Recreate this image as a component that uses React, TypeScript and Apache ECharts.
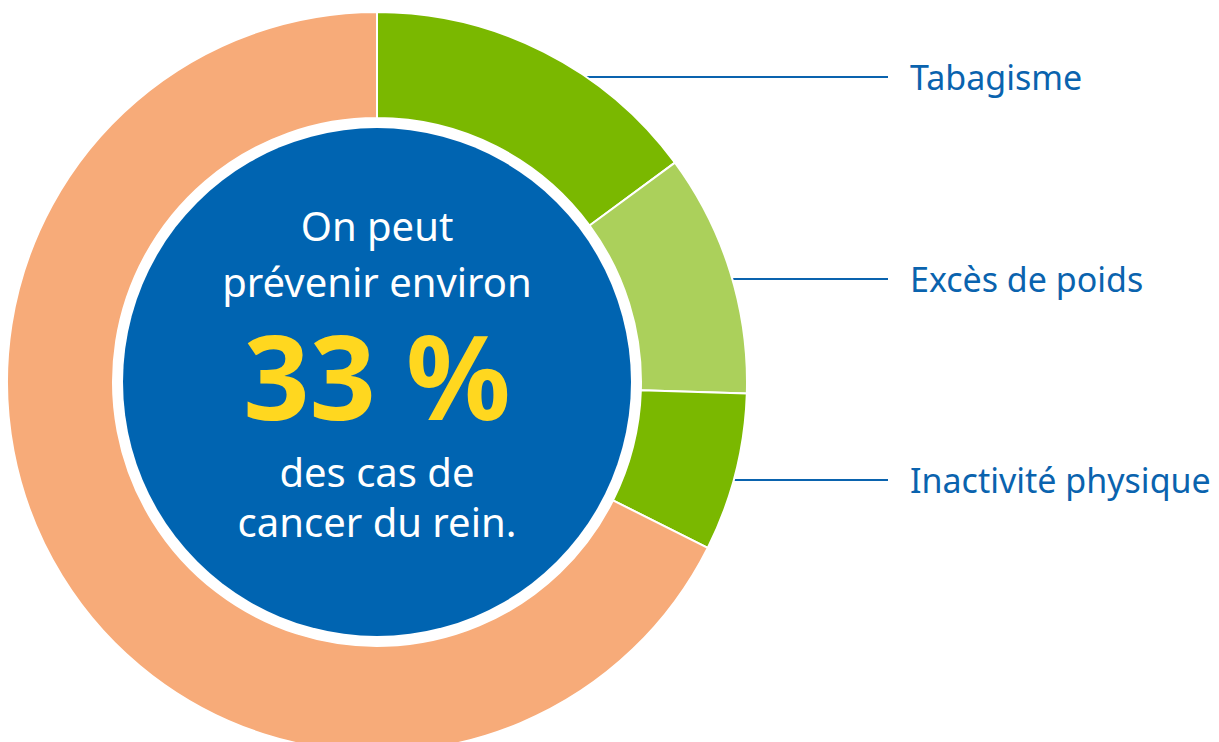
import React, { useEffect, useRef } from "react";
import * as echarts from "echarts";

// ---- data ----
const categories = ["Tabagisme", "Excès de poids", "Inactivité physique", "Autres"];
const values = [14.9, 10.6, 6.9, 67.6];
const sliceColors = ["#7AB800", "#ABD05B", "#7AB800", "#F7AB79"];
const labelRows = [77, 279, 480];
const introLines = ["On peut", "prévenir environ"];
const headline = "33 %";
const outroLines = ["des cas de", "cancer du rein."];

// ---- layout ----
const CX = 377;
const CY = 382;
const R_OUT = 370;
const R_IN = 264;
const R_CORE = 254;
const LINE_END_X = 888;
const LABEL_X = 910;
const BLUE = "#0064B1";
const LABEL_BLUE = "#0A63AE";
const FONT = "'Noto Sans', 'Open Sans', sans-serif";

export default function App() {
  const ref = useRef<HTMLDivElement>(null);

  useEffect(() => {
    document.body.style.margin = "0";
    if (!ref.current) return;
    const chart = echarts.init(ref.current, undefined, { renderer: "svg" });

    const data = categories.map((name, i) => ({
      name,
      value: values[i],
      itemStyle: { color: sliceColors[i] },
      label: { show: i < labelRows.length },
      labelLine: { show: i < labelRows.length },
    }));

    const textEl = (text: string, y: number, size: number, color: string, weight: string) => ({
      type: "text",
      x: CX,
      y,
      z: 10,
      silent: true,
      style: {
        text,
        fill: color,
        font: `${weight} ${size}px ${FONT}`,
        fontFamily: FONT,
        fontSize: size,
        fontWeight: weight,
        align: "center",
        verticalAlign: "middle",
        textAlign: "center",
        textVerticalAlign: "middle",
      },
    });

    chart.setOption({
      animation: false,
      backgroundColor: "#ffffff",
      series: [
        {
          type: "pie",
          center: [CX, CY],
          radius: [R_IN, R_OUT],
          startAngle: 90,
          clockwise: true,
          avoidLabelOverlap: false,
          silent: true,
          emphasis: { disabled: true },
          itemStyle: { borderColor: "#ffffff", borderWidth: 2 },
          label: {
            show: true,
            position: "outside",
            formatter: "{b}",
            color: LABEL_BLUE,
            fontFamily: FONT,
            fontSize: 34,
          },
          labelLine: {
            show: true,
            length: 10,
            length2: 10,
            lineStyle: { color: LABEL_BLUE, width: 2 },
          },
          labelLayout: (params: any) => {
            const i = params.dataIndex;
            if (i >= labelRows.length) return {};
            const y = labelRows[i];
            const dy = y - CY;
            const x0 = CX + Math.sqrt(R_OUT * R_OUT - dy * dy) - 2;
            return {
              x: LABEL_X,
              y,
              align: "left",
              verticalAlign: "middle",
              labelLinePoints: [
                [x0, y],
                [LINE_END_X, y],
                [LINE_END_X, y],
              ],
            };
          },
          data,
        },
      ],
      graphic: {
        elements: [
          {
            type: "circle",
            z: 5,
            silent: true,
            shape: { cx: CX, cy: CY, r: R_CORE },
            style: { fill: BLUE },
          },
          textEl(introLines[0], 225, 40, "#ffffff", "normal"),
          textEl(introLines[1], 281, 40, "#ffffff", "normal"),
          textEl(headline, 375, 116, "#FFD71F", "bold"),
          textEl(outroLines[0], 471, 40, "#ffffff", "normal"),
          textEl(outroLines[1], 521, 40, "#ffffff", "normal"),
        ],
      },
    });

    return () => chart.dispose();
  }, []);

  return <div ref={ref} style={{ width: 1219, height: 742 }} />;
}
